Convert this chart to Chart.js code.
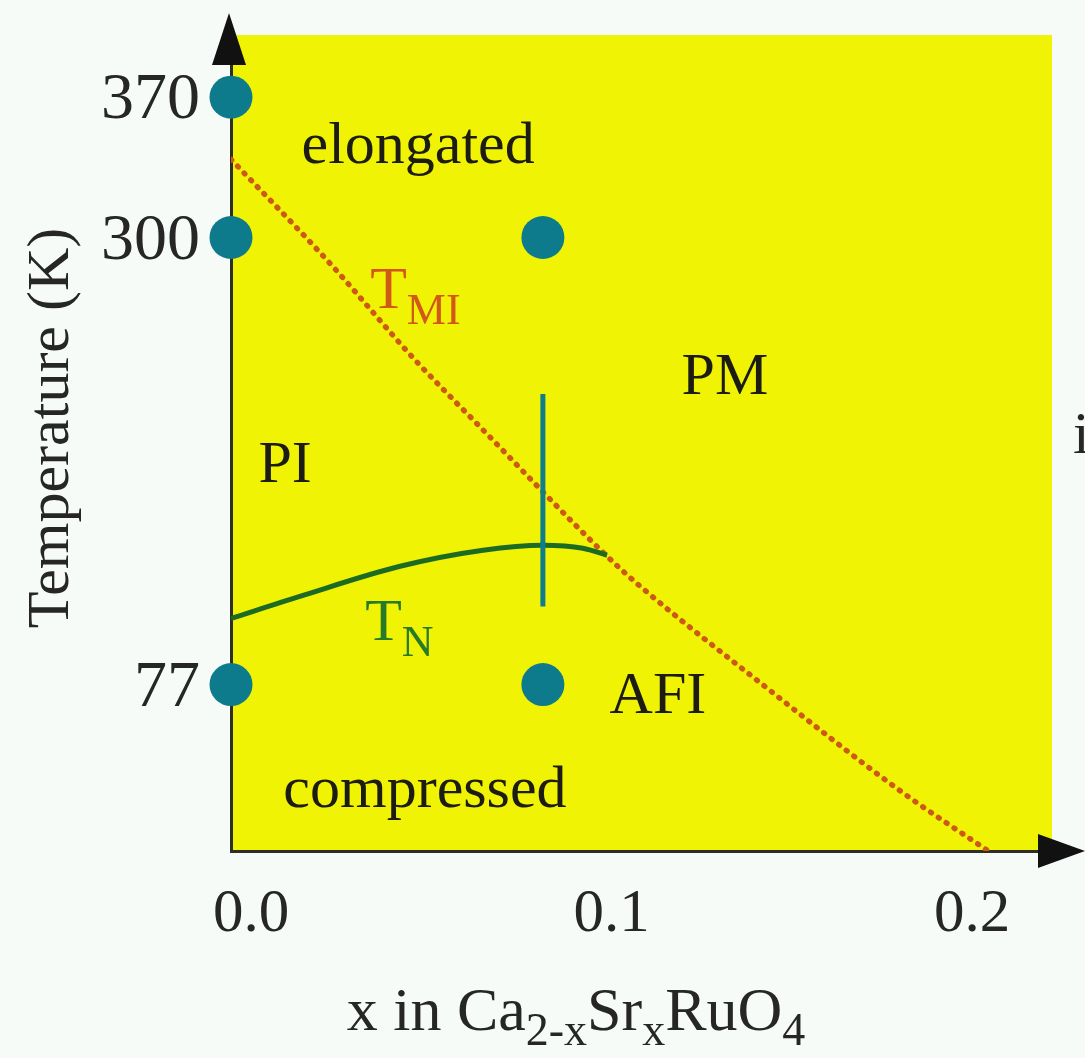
<!DOCTYPE html>
<html>
<head>
<meta charset="utf-8">
<script src="https://cdn.jsdelivr.net/npm/chart.js@4.4.0/dist/chart.umd.min.js"></script>
<style>
  body { margin: 0; background: #f7fbf8; }
  canvas { display: block; }
</style>
</head>
<body>
<canvas id="phaseDiagram" width="1085" height="1058"></canvas>
<script>
const xTicks = [0, 0.1, 0.2];
const yTicks = [77, 300, 370];

// samples that were measured (x, temperature)
const sampleX = [0, 0, 0, 0.0865, 0.0865];
const sampleT = [370, 300, 77, 300, 77];

// metal-insulator transition T_MI
const tmiX = [0, 0.0275, 0.0505, 0.0691, 0.1043, 0.1135, 0.1467, 0.1856, 0.21];
const tmiT = [339, 287, 240, 205.5, 141, 126, 78, 24, -6];

// Neel temperature T_N
const tnX = [0, 0.0191, 0.0469, 0.0699, 0.0865, 0.0976, 0.1043];
const tnT = [110, 121, 136, 144, 146.5, 145, 141.5];

// temperature sweep at the doped composition
const sweepX = [0.0865, 0.0865];
const sweepT = [116, 222];

const SERIF = "'Liberation Serif', 'Times New Roman', serif";
const YELLOW = '#f0f404';
const TEAL = '#0e7b8c';

// region names, anchored in data units
const regionLabels = [
  { text: 'elongated', x: 0.0519, y: 337, color: '#1c1c12' },
  { text: 'PM', x: 0.137, y: 222, color: '#1c1c12' },
  { text: 'PI', x: 0.015, y: 178, color: '#1c1c12' },
  { text: 'AFI', x: 0.1184, y: 63, color: '#1c1c12' },
  { text: 'compressed', x: 0.0538, y: 16, color: '#1c1c12' }
];
const lineLabels = [
  { parts: [['T', 0], ['MI', 1]], x: 0.0386, y: 265, color: '#d2581a' },
  { parts: [['T', 0], ['N', 1]], x: 0.0372, y: 99, color: '#277a26' }
];

function pts(xs, ys) {
  return xs.map((x, i) => ({ x: x, y: ys[i] }));
}

// text with subscripts, parts = [[text, isSub], ...]
function drawRich(ctx, parts, x, y, size, subSize, drop, align) {
  ctx.textBaseline = 'alphabetic';
  ctx.textAlign = 'left';
  let total = 0;
  parts.forEach(p => {
    ctx.font = (p[1] ? subSize : size) + 'px ' + SERIF;
    total += ctx.measureText(p[0]).width;
  });
  let cx = align === 'center' ? x - total / 2 : x;
  parts.forEach(p => {
    ctx.font = (p[1] ? subSize : size) + 'px ' + SERIF;
    ctx.fillText(p[0], cx, p[1] ? y + drop : y);
    cx += ctx.measureText(p[0]).width;
  });
}

const phasePlugin = {
  id: 'phaseDiagram',
  beforeDraw(chart) {
    const a = chart.chartArea;
    const ctx = chart.ctx;
    ctx.save();
    ctx.fillStyle = YELLOW;
    ctx.fillRect(a.left, a.top, a.right - a.left, a.bottom - a.top);
    ctx.restore();
  },
  afterDatasetsDraw(chart) {
    const ctx = chart.ctx;
    const xs = chart.scales.x, ys = chart.scales.y;
    ctx.save();
    regionLabels.forEach(l => {
      ctx.fillStyle = l.color;
      ctx.font = '60px ' + SERIF;
      ctx.textAlign = 'center';
      ctx.textBaseline = 'alphabetic';
      ctx.fillText(l.text, xs.getPixelForValue(l.x), ys.getPixelForValue(l.y));
    });
    lineLabels.forEach(l => {
      ctx.fillStyle = l.color;
      drawRich(ctx, l.parts, xs.getPixelForValue(l.x), ys.getPixelForValue(l.y), 60, 44, 16, 'left');
    });
    ctx.restore();
  },
  afterDraw(chart) {
    const ctx = chart.ctx;
    const a = chart.chartArea;
    ctx.save();
    // arrow heads on both axes
    ctx.fillStyle = '#111111';
    ctx.beginPath();
    ctx.moveTo(a.left - 2, 13);
    ctx.lineTo(a.left - 19, 65);
    ctx.lineTo(a.left + 15, 65);
    ctx.closePath();
    ctx.fill();
    ctx.beginPath();
    ctx.moveTo(1085, a.bottom);
    ctx.lineTo(1038, a.bottom - 17);
    ctx.lineTo(1038, a.bottom + 17);
    ctx.closePath();
    ctx.fill();

    // axis titles
    ctx.fillStyle = '#262626';
    ctx.font = '60px ' + SERIF;
    ctx.translate(52, 428);
    ctx.rotate(-Math.PI / 2);
    ctx.textAlign = 'center';
    ctx.textBaseline = 'middle';
    ctx.fillText('Temperature (K)', 0, 0);
    ctx.setTransform(1, 0, 0, 1, 0, 0);
    drawRich(ctx, [['x in Ca', 0], ['2-x', 1], ['Sr', 0], ['x', 1], ['RuO', 0], ['4', 1]],
      576, 1030, 62, 46, 15, 'center');

    // letter cut off at the right margin
    ctx.font = '60px ' + SERIF;
    ctx.textAlign = 'left';
    ctx.textBaseline = 'alphabetic';
    ctx.fillText('i', a.right + 21, 453);
    ctx.restore();
  }
};

new Chart(document.getElementById('phaseDiagram').getContext('2d'), {
  type: 'scatter',
  data: {
    datasets: [
      {
        label: 'T_MI',
        type: 'line',
        data: pts(tmiX, tmiT),
        borderColor: '#cc5a14',
        borderWidth: 5.5,
        borderDash: [1, 8.5],
        borderCapStyle: 'round',
        cubicInterpolationMode: 'monotone',
        pointRadius: 0,
        fill: false,
        order: 4
      },
      {
        label: 'T_N',
        type: 'line',
        data: pts(tnX, tnT),
        borderColor: '#1d6b22',
        borderWidth: 5,
        cubicInterpolationMode: 'monotone',
        pointRadius: 0,
        fill: false,
        order: 3
      },
      {
        label: 'sweep',
        type: 'line',
        data: pts(sweepX, sweepT),
        borderColor: '#0f7d8a',
        borderWidth: 5,
        pointRadius: 0,
        fill: false,
        order: 2
      },
      {
        label: 'samples',
        data: pts(sampleX, sampleT),
        backgroundColor: TEAL,
        borderWidth: 0,
        pointRadius: 21.5,
        pointHoverRadius: 21.5,
        clip: false,
        order: 1
      }
    ]
  },
  options: {
    responsive: false,
    animation: false,
    layout: { padding: { top: 35, right: 33, left: 0, bottom: 0 } },
    plugins: {
      legend: { display: false },
      tooltip: { enabled: false }
    },
    scales: {
      x: {
        type: 'linear',
        min: 0,
        max: 0.2277,
        grid: { display: false, drawTicks: false },
        border: { display: true, color: '#2e2e24', width: 3 },
        afterBuildTicks: s => { s.ticks = xTicks.map(v => ({ value: v })); },
        afterFit: s => {
          s.height = 207;
          s.paddingLeft = 0;
          s.paddingRight = 0;
        },
        ticks: {
          padding: 27,
          labelOffset: 20,
          color: '#262626',
          font: { family: SERIF, size: 61, lineHeight: 1.2 },
          callback: v => v.toFixed(1)
        }
      },
      y: {
        type: 'linear',
        min: -6,
        max: 401,
        grid: { display: false, drawTicks: false },
        border: { display: true, color: '#2e2e24', width: 3 },
        afterBuildTicks: s => { s.ticks = yTicks.map(v => ({ value: v })); },
        afterFit: s => {
          s.width = 231;
          s.paddingTop = 0;
          s.paddingBottom = 0;
        },
        ticks: {
          padding: 31,
          labelOffset: 4,
          color: '#262626',
          font: { family: SERIF, size: 66 },
          callback: v => String(v)
        }
      }
    }
  },
  plugins: [phasePlugin]
});
</script>
</body>
</html>
